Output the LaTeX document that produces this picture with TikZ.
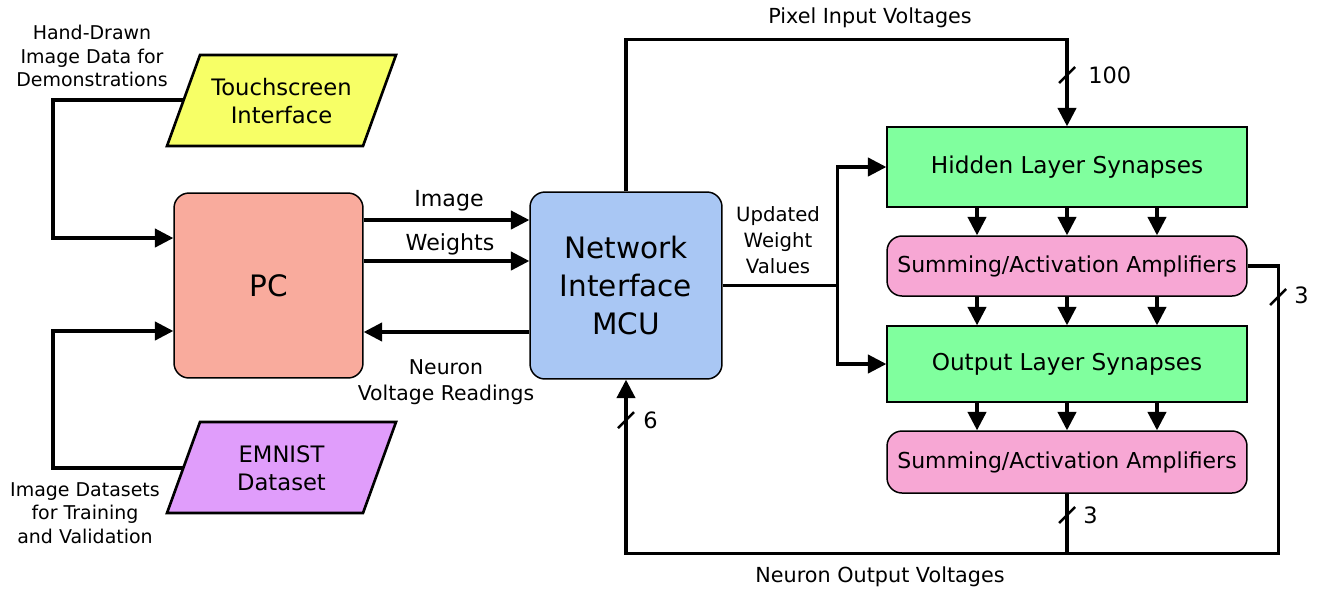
\documentclass[tikz,border=0pt]{standalone}
\usepackage{fontspec}
\setmainfont{DejaVu Sans}
\usetikzlibrary{arrows.meta,calc}

\definecolor{tsyellow}{HTML}{F7FF66}
\definecolor{pcsalmon}{HTML}{F9AB9D}
\definecolor{emviolet}{HTML}{E09DFB}
\definecolor{mcublue}{HTML}{A9C7F4}
\definecolor{synGreen}{HTML}{80FF9E}
\definecolor{ampPink}{HTML}{F7A7D4}

\newcommand\bigfont{\fontsize{16.8}{21.5}\selectfont}
\newcommand\boxfont{\fontsize{12.9}{16.2}\selectfont}
\newcommand\synfont{\fontsize{13.2}{16}\selectfont}
\newcommand\ampfont{\fontsize{12.5}{15}\selectfont}
\newcommand\arrfont{\fontsize{12.6}{15}\selectfont}
\newcommand\notefont{\fontsize{11.6}{14.5}\selectfont}
\newcommand\updfont{\fontsize{11.2}{14.7}\selectfont}
\newcommand\sidefont{\fontsize{10.8}{13.5}\selectfont}
\newcommand\busfont{\fontsize{11.8}{14}\selectfont}
\newcommand\numfont{\fontsize{12.8}{15}\selectfont}

\begin{document}
\begin{tikzpicture}[x=0.02cm,y=-0.02cm,
  box/.style={draw=black, line width=0.85pt, inner sep=0pt, align=center},
  rbox/.style={box, rounded corners=0.3cm},
  para/.style={draw=black, line width=1.5pt, line join=miter},
  conn/.style={line width=1.75pt},
  arr/.style={conn, -{Triangle[length=10.5pt,width=10.5pt]}},
  busmark/.style={line width=1.4pt},
  lbl/.style={align=center, inner sep=0pt, text=black}]

\useasboundingbox[fill=white] (0,0) rectangle (1317,593);

% input sources
\draw[para, fill=tsyellow] (167,146) -- (200,55) -- (396,55) -- (363,146) -- cycle;
\node[lbl, font=\boxfont] (ts) at (281.5,101) {Touchscreen\\Interface};
\coordinate (tsL) at (183.7,100);

\draw[para, fill=emviolet] (167,513) -- (200,422) -- (396,422) -- (363,513) -- cycle;
\node[lbl, font=\boxfont] (em) at (281.5,468) {EMNIST\\Dataset};
\coordinate (emL) at (183.3,468);

% main blocks
\node[rbox, fill=pcsalmon, minimum width=3.78cm, minimum height=3.7cm, font=\bigfont] (pc) at (268.5,285.5) {PC};
\node[rbox, fill=mcublue, minimum width=3.84cm, minimum height=3.74cm, font=\bigfont] (mcu) at (626,285.5) {Network\\Interface\\MCU};

\node[box, fill=synGreen, minimum width=7.2cm, minimum height=1.6cm, font=\synfont] (hid) at (1067,167) {Hidden Layer Synapses};
\node[rbox, fill=ampPink, minimum width=7.2cm, minimum height=1.2cm, font=\ampfont] (amp1) at (1067,266) {Summing/Activation Amplifiers};
\node[box, fill=synGreen, minimum width=7.2cm, minimum height=1.52cm, font=\synfont] (out) at (1067,364) {Output Layer Synapses};
\node[rbox, fill=ampPink, minimum width=7.2cm, minimum height=1.24cm, font=\ampfont] (amp2) at (1067,462) {Summing/Activation Amplifiers};

% sources into the PC
\draw[arr] (tsL) -- (53,100) |- ([yshift=0.95cm]pc.west);
\draw[arr] (emL) -- (53,468) |- ([yshift=-0.91cm]pc.west);
\node[lbl, font=\sidefont] (handlbl) at (92,56) {Hand-Drawn\\Image Data for\\Demonstrations};
\node[lbl, font=\sidefont] (setlbl) at (85,513) {Image Datasets\\for Training\\and Validation};

% PC <-> MCU
\draw[arr] ([yshift=1.31cm]pc.east) -- ([yshift=1.31cm]mcu.west);
\draw[arr] ([yshift=0.49cm]pc.east) -- ([yshift=0.49cm]mcu.west);
\draw[arr] ([yshift=-0.93cm]mcu.west) -- ([yshift=-0.93cm]pc.east);
\node[lbl, font=\arrfont] (imglbl) at (449,201) {Image};
\node[lbl, font=\arrfont] (wlbl) at (450,244) {Weights};
\node[lbl, font=\notefont] (readlbl) at (446,382) {Neuron\\Voltage Readings};

% pixel inputs to the hidden layer
\draw[arr] (mcu.north) -- ++(0,-152) -| (hid.north);
\draw[busmark] (1067,75) ++(-8,8) -- ++(16,-16);
\node[lbl, font=\numfont, anchor=west] (n100) at (1088,75) {100};
\node[lbl, font=\busfont] (pixlbl) at (870,18) {Pixel Input Voltages};

% weight updates
\coordinate (split) at ([xshift=2.3cm]mcu.east);
\draw[conn] (mcu.east) -- (split);
\draw[arr] (split) |- (hid.west);
\draw[arr] (split) |- (out.west);
\node[lbl, font=\updfont] (updlbl) at (778,240) {Updated\\Weight\\Values};

% layer stack
\foreach \dx in {-1.8,0,1.8} {
  \draw[arr] ([xshift=\dx cm]hid.south) -- ([xshift=\dx cm]amp1.north);
  \draw[arr] ([xshift=\dx cm]amp1.south) -- ([xshift=\dx cm]out.north);
  \draw[arr] ([xshift=\dx cm]out.south) -- ([xshift=\dx cm]amp2.north);
}

% neuron outputs back to the MCU
\coordinate (jn) at ([yshift=-1.2cm]amp2.south);
\draw[arr] (amp2.south) -- (jn) -| (mcu.south);
\draw[conn] (amp1.east) -- ++(31,0) |- (jn);
\draw[busmark] (1067,515) ++(-8,8) -- ++(16,-16);
\node[lbl, font=\numfont, anchor=west] (n3b) at (1083,515) {3};
\draw[busmark] (1278,297) ++(-8,8) -- ++(16,-16);
\node[lbl, font=\numfont, anchor=west] (n3r) at (1294,295) {3};
\draw[busmark] (626,420) ++(-8,8) -- ++(16,-16);
\node[lbl, font=\numfont, anchor=west] (n6) at (643,420) {6};
\node[lbl, font=\busfont] (outlbl) at (880,577) {Neuron Output Voltages};

\end{tikzpicture}
\end{document}
